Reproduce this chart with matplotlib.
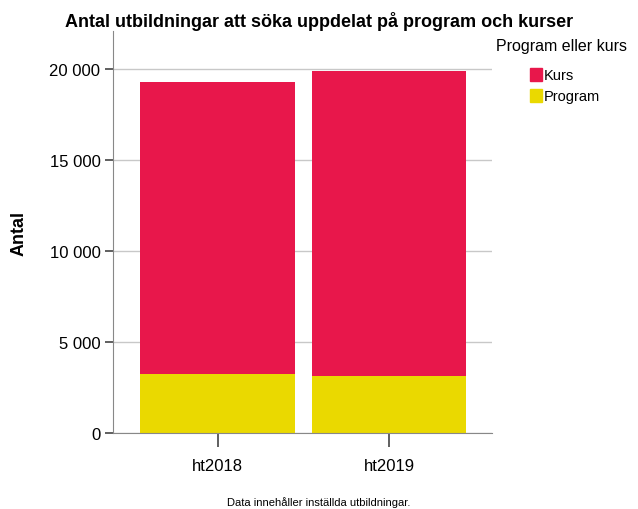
import matplotlib.pyplot as plt
from matplotlib.patches import Patch

# data
terms = ['ht2018', 'ht2019']
program = [3250, 3150]
kurs = [16030, 16740]

red = '#E8174B'
yellow = '#EAD900'

plt.rcParams['font.family'] = ['Liberation Sans', 'DejaVu Sans']

fig = plt.figure(figsize=(6.38, 5.1), dpi=100)
ax = fig.add_axes([0.177, 0.149, 0.594, 0.788])

x = range(len(terms))
ax.bar(x, program, width=0.9, color=yellow, zorder=2)
ax.bar(x, kurs, width=0.9, bottom=program, color=red, zorder=2)

ax.set_xlim(-0.61, 1.6)
ax.set_ylim(0, 22100)
ax.set_yticks([0, 5000, 10000, 15000, 20000])
ax.set_yticklabels(['0', '5 000', '10 000', '15 000', '20 000'], fontsize=12)
ax.set_xticks(list(x))
ax.set_xticklabels(terms, fontsize=12)
ax.yaxis.grid(True, color='#c8c8c8', linewidth=1, zorder=0)
ax.tick_params(axis='y', length=6, color='#444444', width=1.2, pad=3)
ax.tick_params(axis='x', length=10, color='#444444', width=1.2, pad=8)

for s in ['top', 'right']:
    ax.spines[s].set_visible(False)
ax.spines['left'].set_color('#888888')
ax.spines['bottom'].set_color('#888888')

ax.set_ylabel('Antal', fontsize=13, fontweight='bold', labelpad=16)
fig.text(0.5, 0.958, 'Antal utbildningar att söka uppdelat på program och kurser',
         ha='center', va='center', fontsize=13, fontweight='bold')

# legend: title as separate text, entries indented
fig.text(0.777, 0.908, 'Program eller kurs', ha='left', va='center', fontsize=11.5)
handles = [Patch(color=red, label='Kurs'), Patch(color=yellow, label='Program')]
fig.legend(handles=handles, loc='upper left', bbox_to_anchor=(0.815, 0.885),
           frameon=False, fontsize=10.5, handlelength=0.8, handleheight=1.0,
           handletextpad=0.15, labelspacing=0.45, borderpad=0.2)

fig.text(0.5, 0.004, 'Data innehåller inställda utbildningar.', ha='center', va='bottom', fontsize=8)

fig.savefig('out.png', dpi=100)
